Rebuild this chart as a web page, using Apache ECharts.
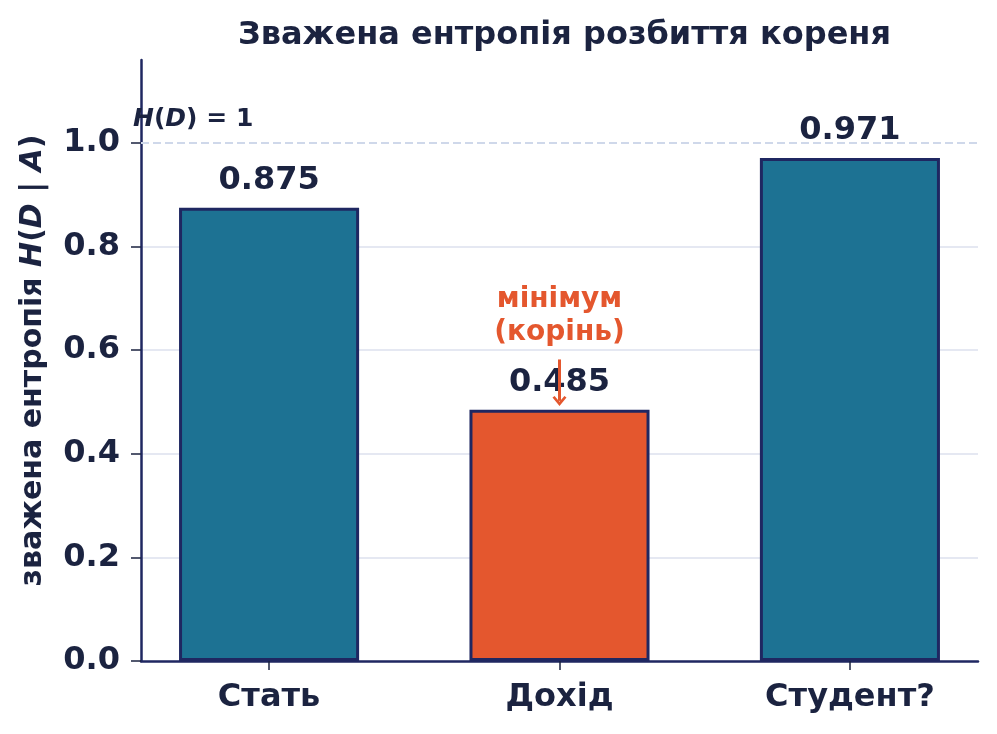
<!DOCTYPE html>
<html>
<head>
<meta charset="utf-8">
<script src="https://cdn.jsdelivr.net/npm/echarts@6/dist/echarts.min.js"></script>
<style>
  html, body { margin: 0; padding: 0; background: #fff; }
  #chart { width: 997px; height: 734px; }
</style>
</head>
<body>
<div id="chart"></div>
<script>
const categories = ['Стать', 'Дохід', 'Студент?']
const entropy = [0.875, 0.485, 0.971]
const yTicks = [0, 0.2, 0.4, 0.6, 0.8, 1.0]
const rootEntropy = 1
const minIndex = 1

const INK = '#1b2340'
const AXIS = '#1f2761'
const TEAL = '#1d7293'
const ORANGE = '#e4572e'
const FONT = 'DejaVu Sans'

const X_MIN = -0.441
const X_MAX = 2.441
const grid = { left: 141, right: 19, top: 60, bottom: 73 }

const el = document.getElementById('chart')
const chart = echarts.init(el)
const plotW = el.clientWidth - grid.left - grid.right
const barWidth = plotW / (X_MAX - X_MIN) * 0.62

// open "->" style arrow head, drawn as a thin filled chevron
const ARROW_HEAD = 'path://M0,10 L10,0 L20,10 L17,12 L10,5 L3,12 Z'

chart.setOption({
  animation: false,
  textStyle: { fontFamily: FONT },
  title: {
    text: 'Зважена ентропія розбиття кореня',
    left: grid.left + plotW / 2,
    textAlign: 'center',
    top: 15,
    textStyle: { color: INK, fontSize: 32, fontWeight: 'bold', fontFamily: FONT },
  },
  grid,
  xAxis: {
    type: 'value',
    min: X_MIN,
    max: X_MAX,
    axisLine: { show: true, onZero: false, lineStyle: { color: AXIS, width: 2.5 } },
    axisTick: { show: true, customValues: [0, 1, 2], length: 9, lineStyle: { color: INK, width: 1.5 } },
    axisLabel: {
      customValues: [0, 1, 2],
      formatter: (v) => categories[Math.round(v)] ?? '',
      color: INK, fontSize: 32, fontWeight: 'bold', margin: 21,
    },
    splitLine: { show: false },
  },
  yAxis: {
    type: 'value',
    min: 0,
    max: 1.16,
    axisLine: { show: true, onZero: false, lineStyle: { color: AXIS, width: 2.5 } },
    axisTick: { show: true, customValues: yTicks, length: 10, lineStyle: { color: INK, width: 1.5 } },
    axisLabel: {
      customValues: yTicks,
      formatter: (v) => v.toFixed(1),
      color: INK, fontSize: 32, fontWeight: 'bold', margin: 21,
    },
    splitLine: { show: true, showMinLine: false, showMaxLine: false, lineStyle: { color: '#dde1ee', width: 1.5 } },
    name: '{n|зважена ентропія }{i|H}{n|(}{i|D}{n| | }{i|A}{n|)}',
    nameLocation: 'middle',
    nameRotate: 90,
    nameGap: 93,
    nameTextStyle: {
      rich: {
        n: { fontSize: 30, fontWeight: 'bold', color: INK, fontFamily: FONT },
        i: { fontSize: 30, fontWeight: 'bold', fontStyle: 'italic', color: INK, fontFamily: FONT },
      },
    },
  },
  series: [
    {
      type: 'bar',
      barWidth,
      data: entropy.map((v, i) => ({
        value: [i, v],
        itemStyle: { color: i === minIndex ? ORANGE : TEAL },
      })),
      itemStyle: { borderColor: AXIS, borderWidth: 3 },
      label: {
        show: true,
        position: 'top',
        distance: 11,
        formatter: (p) => p.value[1].toFixed(3),
        color: INK, fontSize: 32, fontWeight: 'bold',
      },
      z: 2,
      markLine: {
        silent: true,
        symbol: 'none',
        z: 1,
        lineStyle: { color: '#cfd8ea', type: [8, 4], width: 2 },
        label: { show: false },
        data: [{ yAxis: rootEntropy }],
      },
      markPoint: {
        silent: true,
        symbolSize: 0,
        data: [
          {
            coord: [X_MIN, rootEntropy],
            label: {
              show: true,
              position: 'right',
              offset: [-13, -23],
              formatter: '{i|H}{n|(}{i|D}{n|) = 1}',
              rich: {
                n: { fontSize: 25, fontWeight: 'bold', color: INK, fontFamily: FONT },
                i: { fontSize: 25, fontWeight: 'bold', fontStyle: 'italic', color: INK, fontFamily: FONT },
              },
            },
          },
          {
            coord: [minIndex, 0.665],
            label: {
              show: true,
              position: 'inside',
              formatter: 'мінімум\n(корінь)',
              color: ORANGE, fontSize: 28, fontWeight: 'bold', lineHeight: 33,
            },
          },
        ],
      },
    },
    {
      type: 'line',
      silent: true,
      data: [],
      z: 5,
      markLine: {
        silent: true,
        symbol: ['none', ARROW_HEAD],
        symbolSize: [14, 10],
        lineStyle: { color: ORANGE, width: 3, type: 'solid' },
        label: { show: false },
        data: [[{ coord: [minIndex, 0.582] }, { coord: [minIndex, 0.502] }]],
      },
    },
  ],
})
</script>
</body>
</html>
